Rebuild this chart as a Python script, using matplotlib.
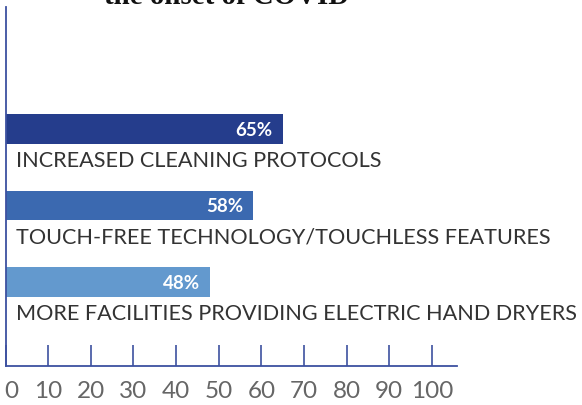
import matplotlib
matplotlib.use('Agg')
import matplotlib.pyplot as plt
from matplotlib.transforms import ScaledTranslation

categories = ['INCREASED CLEANING PROTOCOLS',
              'TOUCH-FREE TECHNOLOGY/TOUCHLESS FEATURES',
              'MORE FACILITIES PROVIDING ELECTRIC HAND DRYERS']
values = [65, 58, 48]
bar_colors = ['#253d8c', '#3b69b0', '#6399ce']
ticks = [0, 10, 20, 30, 40, 50, 60, 70, 80, 90, 100]
axis_col = '#3d51a0'

W, H = 582, 406
fig = plt.figure(figsize=(W / 100, H / 100), dpi=100)
ax = fig.add_axes([5.5 / W, 39 / H, 452 / W, 359 / H])

ypos = list(range(len(values)))
ax.barh(ypos, values, height=0.38, color=bar_colors)
for y, v, c in zip(ypos, values, categories):
    ax.text(v - 2.3, y, f'{v}%', ha='right', va='center', color='white',
            fontsize=13.5, fontweight='bold', family='Lato')
    ax.text(2.5, y + 0.40, c, ha='left', va='center', color='#333333',
            fontsize=15.6, family='Lato', clip_on=False)

ax.set_xlim(0, 106)
ax.set_ylim(3.098, -1.595)
ax.set_xticks(ticks)
ax.set_xticklabels([str(t) for t in ticks], family='Lato', fontsize=17.5, color='#666666')
ax.tick_params(axis='x', direction='in', length=15, width=1.2, color=axis_col, pad=10)
# the zero label sits a little right of the spine in the original
lab0 = ax.get_xticklabels()[0]
lab0.set_transform(lab0.get_transform() + ScaledTranslation(6 / 100, 0, fig.dpi_scale_trans))
ax.set_yticks([])
for s in ['top', 'right']:
    ax.spines[s].set_visible(False)
for s in ['left', 'bottom']:
    ax.spines[s].set_color(axis_col)
    ax.spines[s].set_linewidth(1.3)

fig.text(227 / W, 1 - 4 / H, 'the onset of COVID', ha='center', va='baseline',
         family='Liberation Serif', fontweight='bold', fontsize=20.8, color='#111111')

fig.savefig('out.png', dpi=100)
plt.close(fig)
